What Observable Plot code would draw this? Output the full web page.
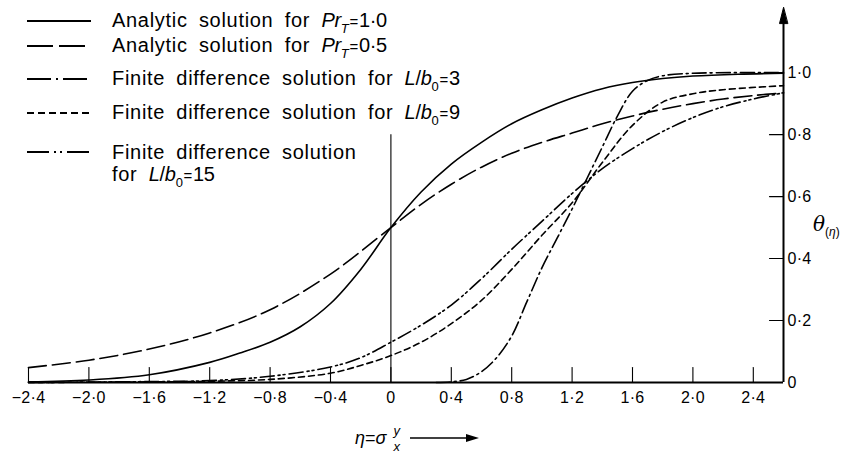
<!DOCTYPE html>
<html><head><meta charset="utf-8">
<script src="https://cdn.jsdelivr.net/npm/d3@7"></script>
<script src="https://cdn.jsdelivr.net/npm/@observablehq/plot@0.6"></script>
<style>
body{margin:0;background:#fff;}
#wrap{position:relative;width:848px;height:452px;font-family:"Liberation Sans",Arial,sans-serif;color:#000;overflow:hidden;}
#chart{position:absolute;left:0;top:0;}
.row{position:absolute;left:27px;display:flex;align-items:center;font-size:20px;letter-spacing:0.7px;word-spacing:5px;white-space:nowrap;height:22px;line-height:22px;}
.row svg{display:block;margin-right:21px;}
i{font-style:italic;}
.sub{font-size:13px;position:relative;top:6px;}
.m{letter-spacing:-0.3px;}
.eq{font-size:15px;margin:0 1px;}
#ylab{position:absolute;left:813px;top:212px;font-size:20px;font-family:"DejaVu Serif",serif;}
#ylab sub{font-size:12px;font-family:"Liberation Sans",Arial,sans-serif;}
#xlab{position:absolute;left:355px;top:421px;font-size:18px;display:flex;align-items:center;height:34px;}
.frac{display:inline-flex;flex-direction:column;align-items:center;font-style:italic;font-size:13px;line-height:13px;margin-left:7px;}
.frac span{display:block;}
.frac span + span{margin-top:3px;}
</style></head>
<body>
<div id="wrap">
  <div id="chart"></div>
</div>
<script>
// ---------- data ----------
const xTicks = [-2.4,-2.0,-1.6,-1.2,-0.8,-0.4,0,0.4,0.8,1.2,1.6,2.0,2.4];
const yTicks = [0,0.2,0.4,0.6,0.8,1.0];

const etaPr10   = [-2.4,-2.0,-1.6,-1.2,-1.0,-0.8,-0.6,-0.4,-0.2,0,0.2,0.4,0.6,0.8,1.0,1.2,1.4,1.6,1.8,2.0,2.3,2.6];
const thetaPr10 = [0.002,0.008,0.025,0.065,0.095,0.13,0.18,0.255,0.365,0.5,0.615,0.705,0.775,0.835,0.88,0.918,0.948,0.968,0.981,0.989,0.995,0.998];

const etaPr05   = [-2.4,-2.0,-1.6,-1.2,-0.8,-0.4,0,0.2,0.4,0.6,0.8,1.0,1.2,1.4,1.6,1.8,2.0,2.2,2.4,2.6];
const thetaPr05 = [0.048,0.072,0.108,0.16,0.235,0.35,0.5,0.575,0.64,0.695,0.74,0.775,0.805,0.835,0.86,0.882,0.9,0.915,0.926,0.935];

const etaL3   = [0.3,0.4,0.5,0.6,0.7,0.8,0.9,1.0,1.1,1.2,1.3,1.4,1.5,1.6,1.7,1.8,2.0,2.6];
const thetaL3 = [0,0.002,0.01,0.035,0.08,0.15,0.26,0.37,0.465,0.56,0.66,0.76,0.86,0.94,0.975,0.99,0.998,1.0];

const etaL9   = [-2.4,-1.6,-1.2,-0.8,-0.4,-0.2,0,0.2,0.4,0.6,0.8,1.0,1.2,1.4,1.6,1.8,2.0,2.2,2.6];
const thetaL9 = [0,0.002,0.004,0.01,0.03,0.055,0.087,0.13,0.19,0.265,0.365,0.475,0.58,0.71,0.83,0.905,0.932,0.945,0.958];

const etaL15   = [-2.4,-1.6,-1.2,-0.8,-0.4,-0.2,0,0.2,0.4,0.6,0.8,1.0,1.2,1.4,1.6,1.8,2.0,2.2,2.4,2.6];
const thetaL15 = [0,0.003,0.006,0.02,0.05,0.08,0.13,0.185,0.25,0.335,0.43,0.52,0.61,0.69,0.755,0.81,0.855,0.89,0.915,0.935];

// ---------- styles ----------
const series = [
  {eta: etaPr10, theta: thetaPr10, dash: null},
  {eta: etaPr05, theta: thetaPr05, dash: "18,6"},
  {eta: etaL3,   theta: thetaL3,   dash: "14,4,2,4"},
  {eta: etaL9,   theta: thetaL9,   dash: "6,4"},
  {eta: etaL15,  theta: thetaL15,  dash: "14,4,2,3,2,4"}
];
const legendText = [
  'Analytic solution for <span class="m"><i>Pr</i><span class="sub"><i>T</i></span><span class="eq">=</span>1·0</span>',
  'Analytic solution for <span class="m"><i>Pr</i><span class="sub"><i>T</i></span><span class="eq">=</span>0·5</span>',
  'Finite difference solution for <span class="m"><i>L</i>/<i>b</i><span class="sub">0</span><span class="eq">=</span>3</span>',
  'Finite difference solution for <span class="m"><i>L</i>/<i>b</i><span class="sub">0</span><span class="eq">=</span>9</span>',
  'Finite difference solution',
];
const legendCenter = [21, 46, 79, 113, 152];
const legendDash = [null, "26,6", "24,5,2,5", "7,4", "22,5,2,4,2,5"];

const fmt = d => d === 0 ? "0" : (d < 0 ? "−" : "") + Math.abs(d).toFixed(1).replace(".", "·");
const tickShape = {draw(ctx, l) { ctx.moveTo(0, 0); ctx.lineTo(0, -l); }};
const headShape = {draw(ctx, l) { ctx.moveTo(0, -l); ctx.lineTo(-4, 0); ctx.lineTo(4, 0); ctx.closePath(); }};

const lineMarks = series.map(s =>
  Plot.line(s.eta.map((e, i) => ({eta: e, theta: s.theta[i]})), {
    x: "eta", y: "theta", curve: "catmull-rom",
    stroke: "black", strokeWidth: 1.6, strokeDasharray: s.dash
  })
);

const chart = Plot.plot({
  width: 848, height: 452,
  marginLeft: 28, marginRight: 65, marginTop: 4, marginBottom: 70,
  style: {fontFamily: '"Liberation Sans", Arial, sans-serif', fontSize: "16px", letterSpacing: "0.3px", background: "white", color: "black"},
  x: {domain: [-2.4, 2.6], ticks: xTicks, tickFormat: fmt, tickSize: 0, tickPadding: 9, label: null},
  y: {domain: [0, 1.22], axis: "right", ticks: yTicks, tickFormat: fmt, tickSize: 0, tickPadding: 4, label: null},
  marks: [
    Plot.ruleX([0], {y1: () => 0, y2: () => 0.80, stroke: "black", strokeWidth: 1.1}),
    ...lineMarks,
    Plot.ruleY([0], {x1: () => -2.4, x2: () => 2.6, stroke: "black", strokeWidth: 2.2}),
    Plot.ruleX([2.6], {y1: () => 0, y2: () => 1.17, stroke: "black", strokeWidth: 2}),
    Plot.vector([1.21], {x: () => 2.6, y: d => d, length: 16, anchor: "end", shape: headShape, fill: "black", stroke: "black", strokeWidth: 1}),
    Plot.vector(xTicks, {x: d => d, y: () => 0, length: 15, anchor: "start", shape: tickShape, stroke: "black", strokeWidth: 1.1}),
    Plot.vector(yTicks.filter(d => d > 0), {x: () => 2.6, y: d => d, length: 14, rotate: -90, anchor: "start", shape: tickShape, stroke: "black", strokeWidth: 1.1})
  ]
});
const wrap = document.getElementById("wrap");
document.getElementById("chart").appendChild(chart);

// legend
series.forEach((s, i) => {
  const row = document.createElement("div");
  row.className = "row";
  row.style.top = (legendCenter[i] - 11) + "px";
  const d = legendDash[i];
  row.innerHTML = `<svg width="64" height="12"><line x1="0" y1="6" x2="64" y2="6" stroke="black" stroke-width="1.8" ${d ? `stroke-dasharray="${d}"` : ""}/></svg><span>${legendText[i]}</span>`;
  wrap.appendChild(row);
});
const r6 = document.createElement("div");
r6.className = "row";
r6.style.top = (175 - 11) + "px";
r6.style.left = "112px";
r6.innerHTML = '<span>for <span class="m"><i>L</i>/<i>b</i><span class="sub">0</span><span class="eq">=</span>15</span></span>';
wrap.appendChild(r6);

// axis titles
const yl = document.createElement("div");
yl.id = "ylab";
yl.innerHTML = '<i>θ</i><sub>(<i>η</i>)</sub>';
wrap.appendChild(yl);
const xl = document.createElement("div");
xl.id = "xlab";
xl.innerHTML = '<i>η</i>=<i>σ</i><span class="frac"><span>y</span><span>x</span></span><svg width="70" height="10" style="margin-left:10px"><line x1="0" y1="5" x2="58" y2="5" stroke="black" stroke-width="1.5"/><path d="M56,1 L69,5 L56,9 Z" fill="black"/></svg>';
wrap.appendChild(xl);
</script>
</body></html>
